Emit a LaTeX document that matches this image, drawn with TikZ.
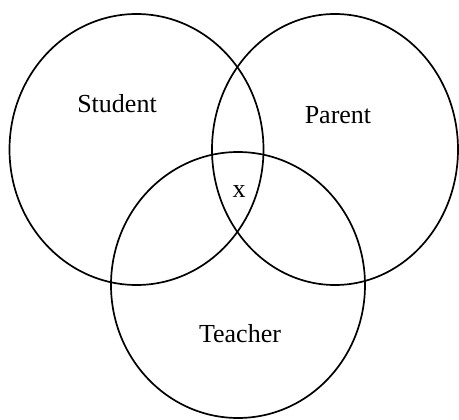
\documentclass[tikz,border=0pt]{standalone}
\usepackage{fontspec}
\setmainfont{Liberation Serif}
\usepackage{tikz}

\begin{document}
\begin{tikzpicture}[
  x=1pt,y=-1pt,
  every node/.style={font=\fontsize{26}{30}\selectfont,inner sep=0pt},
  ring/.style={draw=black,line width=1.7pt},
  lbl/.style={anchor=base}
]
\useasboundingbox (0,0) rectangle (459,420);
% the three sets
\draw[ring] (136.5,149.5) ellipse [x radius=127pt,y radius=135.5pt];
\draw[ring] (335,149.5) ellipse [x radius=123pt,y radius=135.5pt];
\draw[ring] (238,285) ellipse [x radius=127pt,y radius=133pt];
% labels
\node[lbl] (student) at (117,113) {Student};
\node[lbl] (parent) at (338,124) {Parent};
\node[lbl] (teacher) at (240,343) {Teacher};
\node[lbl] (common) at (239,198) {x};
\end{tikzpicture}
\end{document}
